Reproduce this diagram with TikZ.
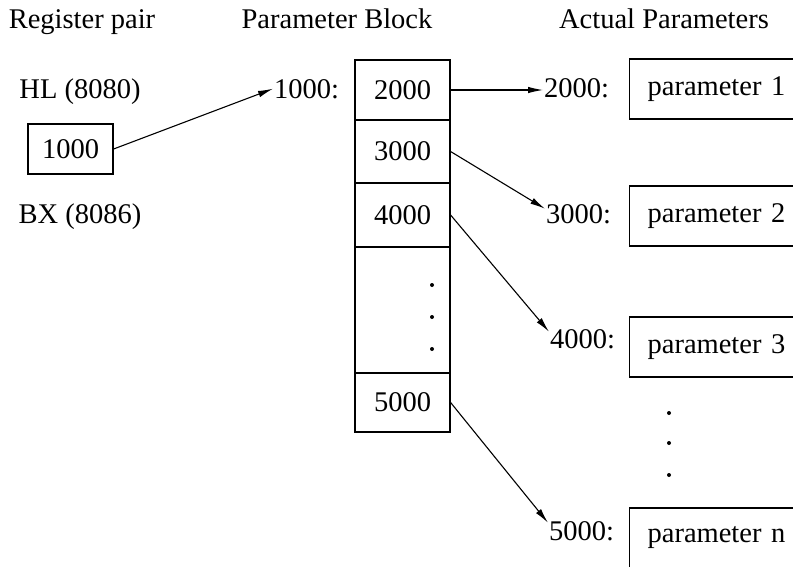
\documentclass[tikz,border=0pt]{standalone}
\usepackage{fontspec}
\setmainfont{Liberation Serif}
\usepackage{tikz}
\usetikzlibrary{arrows.meta}
\tikzstyle{cell} = [draw, line width=1.2pt, minimum width=95pt, inner sep=0pt]
\tikzstyle{parbox} = [draw, line width=1.2pt, anchor=west, minimum height=60pt, text width=170pt, inner xsep=18pt, align=left]
\tikzstyle{addr} = [anchor=base west, inner sep=1pt]
\tikzstyle{ptr} = [-{Latex[length=15pt,width=6.5pt]}, line width=1.1pt]
\tikzstyle{vdot} = [circle, fill, minimum size=4pt, inner sep=0pt]

\begin{document}
\begin{tikzpicture}[x=1pt,y=-1pt,font=\fontsize{28.5}{32}\selectfont]
  \clip (0,0) rectangle (793,566);
  % headings
  \node[anchor=base] (hreg) at (82,28) {Register pair};
  \node[anchor=base] (hblk) at (337,28) {Parameter Block};
  \node[anchor=base] (hact) at (664,28) {Actual Parameters};
  % register pair
  \node[anchor=base] (hl) at (80,98) {HL (8080)};
  \node[anchor=base] (bx) at (80,223) {BX (8086)};
  \node[draw, line width=1.2pt, minimum width=85pt, minimum height=50pt, inner sep=0pt] (reg) at (70.5,149) {1000};
  % parameter block
  \node[cell, minimum height=60pt] (c1) at (402.5,90) {2000};
  \node[cell, minimum height=63pt] (c2) at (402.5,151.5) {3000};
  \node[cell, minimum height=64pt] (c3) at (402.5,215) {4000};
  \node[cell, minimum height=126pt] (cdots) at (402.5,310) {};
  \node[cell, minimum height=59pt] (c5) at (402.5,402.5) {5000};
  \foreach \y in {285,317,349}
    \node[vdot] (d\y) at (432,\y) {};
  % actual parameters
  \node[parbox] (p1) at (629,89) {parameter 1};
  \node[parbox] (p2) at (629,216) {parameter 2};
  \node[parbox] (p3) at (629,347) {parameter 3};
  \node[parbox] (pn) at (629,538) {parameter n};
  \foreach \y in {413,443,475}
    \node[vdot] (e\y) at (669,\y) {};
  % addresses
  \node[addr] (l1) at (273,98) {1000:};
  \node[addr] (l2) at (543,97) {2000:};
  \node[addr] (l3) at (545,223) {3000:};
  \node[addr] (l4) at (549,348) {4000:};
  \node[addr] (l5) at (548,540) {5000:};
  % pointers
  \draw[ptr] (reg.east) -- (l1.west);
  \draw[ptr] (c1.east) -- (c1.east -| l2.west);
  \draw[ptr] (c2.east) -- ([yshift=5pt]l3.west);
  \draw[ptr] (c3.east) -- ([yshift=7pt]l4.west);
  \draw[ptr] (c5.east) -- ([yshift=8pt]l5.west);
\end{tikzpicture}
\end{document}
